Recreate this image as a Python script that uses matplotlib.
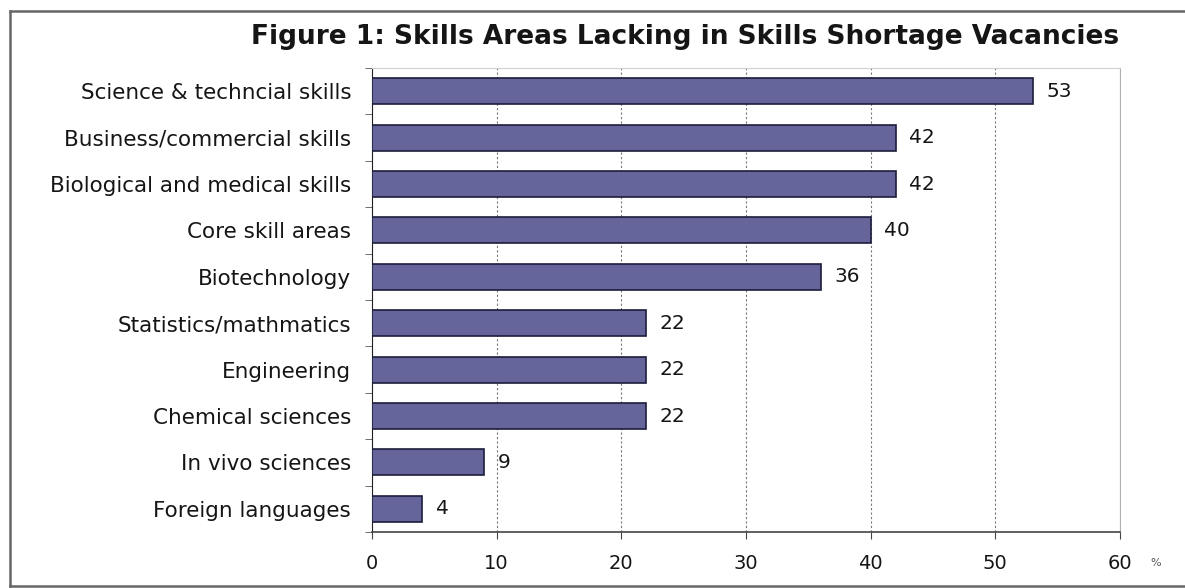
import matplotlib.pyplot as plt
import numpy as np
from matplotlib.lines import Line2D

categories = [
    "Science & techncial skills",
    "Business/commercial skills",
    "Biological and medical skills",
    "Core skill areas",
    "Biotechnology",
    "Statistics/mathmatics",
    "Engineering",
    "Chemical sciences",
    "In vivo sciences",
    "Foreign languages",
]
values = [53, 42, 42, 40, 36, 22, 22, 22, 9, 4]
x_ticks = [0, 10, 20, 30, 40, 50, 60]

plt.rcParams["font.family"] = ["DejaVu Sans"]
TEXT = "#151515"

fig = plt.figure(figsize=(11.85, 5.88), dpi=100)
ax = fig.add_axes([372 / 1185, 1 - 532 / 588, (1120 - 372) / 1185, (532 - 68) / 588])

y = np.arange(len(categories))
ax.barh(y, values, height=0.56, color="#65659b", edgecolor="#1c1c3c", linewidth=1.2, zorder=3)
for yi, v in zip(y, values):
    ax.text(v + 1.1, yi, str(v), va="center", ha="left", fontsize=14.5, color=TEXT)

ax.set_xlim(0, 60)
ax.set_ylim(len(categories) - 0.5, -0.5)
ax.set_xticks(x_ticks)
ax.set_xticklabels([str(t) for t in x_ticks], fontsize=14, color=TEXT)
ax.set_yticks(y)
ax.set_yticklabels(categories, fontsize=15.5, color=TEXT)
ax.tick_params(axis="y", which="major", length=0, pad=15)
ax.set_yticks(np.arange(-0.5, len(categories), 1.0), minor=True)
ax.tick_params(axis="y", which="minor", length=5, color="#555555")
ax.tick_params(axis="x", length=5, color="#444444", pad=11)
ax.grid(axis="x", linestyle=(0, (2, 2)), color="#777777", linewidth=0.8, zorder=0)

ax.spines["top"].set_color("#d0d0d0")
ax.spines["right"].set_color("#b0b0b0")
ax.spines["left"].set_color("#222222")
ax.spines["bottom"].set_color("#444444")
ax.spines["bottom"].set_linewidth(1.2)

fig.text(1150 / 1185, 1 - 563 / 588, "%", fontsize=8, color="#555555", va="center")
fig.text(685 / 1185, 1 - 37 / 588, "Figure 1: Skills Areas Lacking in Skills Shortage Vacancies",
         ha="center", va="center", fontsize=19, fontweight="bold", color=TEXT)

# outer frame (left, top, bottom)
frame_kw = dict(color="#666666", linewidth=1.8, transform=fig.transFigure)
fig.add_artist(Line2D([10 / 1185, 10 / 1185], [1 - 11 / 588, 1 - 586 / 588], **frame_kw))
fig.add_artist(Line2D([10 / 1185, 1.0], [1 - 11 / 588, 1 - 11 / 588], **frame_kw))
fig.add_artist(Line2D([10 / 1185, 1.0], [1 - 586 / 588, 1 - 586 / 588], **frame_kw))

fig.savefig("out.png", dpi=100)
